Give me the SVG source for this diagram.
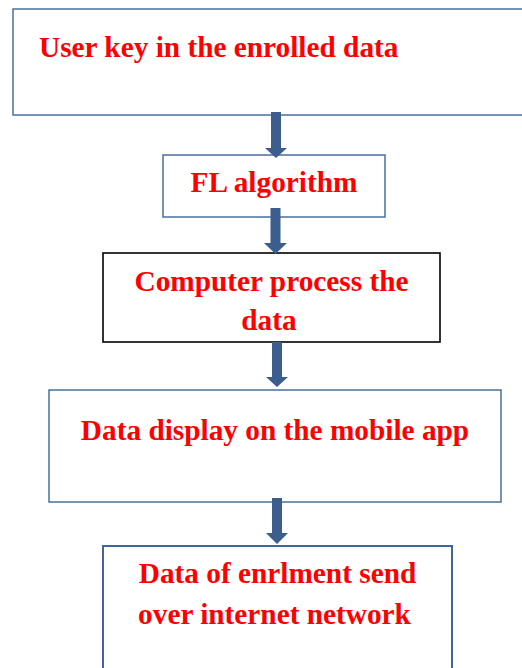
<svg xmlns="http://www.w3.org/2000/svg" width="522" height="668" viewBox="0 0 522 668">
<style>
.box{fill:#fff;stroke:#4A6F9C;stroke-width:1.5}
.boxk{fill:#fff;stroke:#000;stroke-width:1.6}
.t{font-family:"Liberation Serif","Times New Roman",serif;font-weight:bold;font-size:29.3px;fill:#FF0000}
.arr{fill:#3B5E8C}
</style>
<rect width="522" height="668" fill="#fff"/>
<g id="n1"><rect class="box" x="13" y="9" width="520" height="106"/><text class="t" x="39" y="57">User key in the enrolled data</text></g>
<g id="n2"><rect class="box" x="163" y="155" width="222" height="62"/><text class="t" x="274" y="192" text-anchor="middle">FL algorithm</text></g>
<g id="n3"><rect class="boxk" x="103" y="253" width="337" height="89"/><text class="t" x="271.5" y="291" text-anchor="middle">Computer process the</text><text class="t" x="269" y="330" text-anchor="middle">data</text></g>
<g id="n4"><rect class="box" x="49" y="390" width="452" height="112"/><text class="t" x="275" y="440" text-anchor="middle">Data display on the mobile app</text></g>
<g id="n5"><rect class="box" style="stroke:#41679A;stroke-width:2" x="103" y="546" width="349" height="140"/><text class="t" x="277.5" y="583" text-anchor="middle">Data of enrlment send</text><text class="t" x="274.5" y="624" text-anchor="middle">over internet network</text></g>
<g id="connectors">
<polygon class="arr" points="271,112 281,112 281,148 287,148 276,158 265,148 271,148"/>
<polygon class="arr" points="270.5,208 280.5,208 280.5,243 287,243 275.5,254 264,243 270.5,243"/>
<polygon class="arr" points="272,342 282,342 282,377 288,377 277,387 266,377 272,377"/>
<polygon class="arr" points="272,498 282,498 282,533 288,533 277,544 266,533 272,533"/>
</g>
</svg>
